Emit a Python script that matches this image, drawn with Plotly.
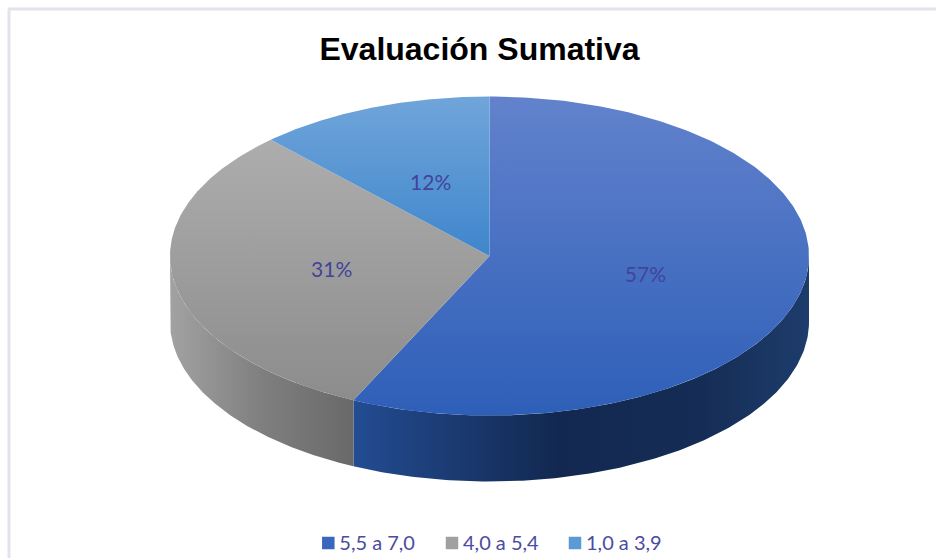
import numpy as np
import plotly.graph_objects as go

title = "Evaluación Sumativa"
categories = ["5,5 a 7,0", "4,0 a 5,4", "1,0 a 3,9"]
values = [57, 31, 12]
swatch_colors = ["#3a66bd", "#a0a0a0", "#5b9bd5"]
top_gradients = [
    ["#2e5fb8", "#6282cc"],
    ["#8c8c8c", "#adadad"],
    ["#3f86cc", "#70a5da"],
]
side_gradients = [
    [[0, "#234c92"], [0.45, "#122850"], [0.75, "#152c55"], [1, "#1d3c6b"]],
    [[0, "#a2a2a2"], [0.5, "#7f7f7f"], [1, "#696969"]],
    None,
]
label_color = "#43439c"
legend_color = "#4b4ba3"

CX, CY, RX, RY, DEPTH = 489.5, 256, 319.5, 159.5, 66
W, H = 936, 558
SWATCH_X = [328.3, 452, 575]
SWATCH_Y = 543
LABEL_DY = 3
LEGEND_TEXT_GAP = 11
LEGEND_TEXT_DY = 2

shares = np.array(values, dtype=float) / sum(values)
ends = np.cumsum(shares) * 2 * np.pi
starts = ends - shares * 2 * np.pi


def ex(t):
    return CX + RX * np.sin(t)


def ey(t):
    return CY - RY * np.cos(t)


fig = go.Figure()

# side walls (only the part of the rim facing the viewer)
for i, cat in enumerate(categories):
    grad = side_gradients[i]
    lo = max(starts[i], np.pi / 2)
    hi = min(ends[i], 3 * np.pi / 2)
    if grad is None or hi <= lo:
        continue
    t = np.linspace(lo, hi, 160)
    xs = np.concatenate([ex(t), ex(t[::-1])])
    ys = np.concatenate([ey(t), ey(t[::-1]) + DEPTH])
    fig.add_trace(go.Scatter(
        x=xs, y=ys, mode="lines", fill="toself", line=dict(width=0),
        fillgradient=dict(type="horizontal", colorscale=grad),
        showlegend=False, hoverinfo="skip",
    ))

# top faces
for i, cat in enumerate(categories):
    t = np.linspace(starts[i], ends[i], 240)
    xs = np.concatenate([[CX], ex(t), [CX]])
    ys = np.concatenate([[CY], ey(t), [CY]])
    c0, c1 = top_gradients[i]
    fig.add_trace(go.Scatter(
        x=xs, y=ys, mode="lines", fill="toself", line=dict(width=0),
        fillgradient=dict(type="vertical", colorscale=[[0, c0], [1, c1]]),
        showlegend=False, name=cat,
    ))

# data labels at half radius of each slice's mid angle
mids = (starts + ends) / 2
fig.add_trace(go.Scatter(
    x=CX + 0.5 * RX * np.sin(mids), y=CY - 0.5 * RY * np.cos(mids) + LABEL_DY,
    mode="text", text=[f"{v}%" for v in values],
    textfont=dict(family="Lato", size=21, color=label_color),
    showlegend=False, hoverinfo="skip",
))

# legend row: square swatch followed by its label
for cat, col, sx in zip(categories, swatch_colors, SWATCH_X):
    fig.add_trace(go.Scatter(
        x=[sx], y=[SWATCH_Y], mode="markers", name=cat,
        marker=dict(symbol="square", size=12.5, color=col),
        showlegend=False,
    ))
    fig.add_trace(go.Scatter(
        x=[sx + LEGEND_TEXT_GAP], y=[SWATCH_Y + LEGEND_TEXT_DY], mode="text", name=cat,
        text=[cat], textposition="middle right",
        textfont=dict(family="Lato", size=20, color=legend_color),
        showlegend=False, hoverinfo="skip",
    ))

fig.update_layout(
    width=W, height=H, autosize=False,
    margin=dict(l=0, r=0, t=0, b=0),
    paper_bgcolor="white", plot_bgcolor="white",
    showlegend=False,
    xaxis=dict(range=[0, W], visible=False, fixedrange=True),
    yaxis=dict(range=[H, 0], visible=False, fixedrange=True),
    title=dict(
        text=title, x=479.5 / W, xanchor="center", y=1 - 49 / H, yanchor="middle",
        font=dict(family="Liberation Sans", size=32, color="#000000", weight="bold"),
    ),
    shapes=[
        dict(type="line", xref="paper", yref="paper", x0=8 / W, x1=1, y0=1 - 9 / H, y1=1 - 9 / H,
             line=dict(color="#e1e4ec", width=3)),
        dict(type="line", xref="paper", yref="paper", x0=9 / W, x1=9 / W, y0=0, y1=1 - 9 / H,
             line=dict(color="#e1e4ec", width=3)),
    ],
)

fig.write_html(
    "out.html",
    config={"displayModeBar": False},
    post_script="document.body.style.margin='0';document.body.style.overflow='hidden';",
)
